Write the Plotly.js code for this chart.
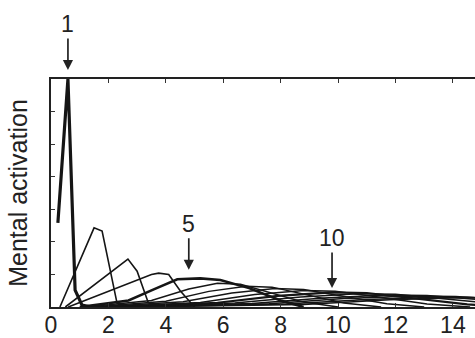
<!DOCTYPE html>
<html><head><meta charset="utf-8">
<script src="https://cdn.plot.ly/plotly-3.0.1.min.js"></script>
<style>html,body{margin:0;padding:0;background:#fff;overflow:hidden}</style>
</head><body><div id="chart" style="width:475px;height:338px"></div>
<script>
// Curves: mental activation for numbers 1..15
const c1x = [0.24, 0.59, 0.84, 1.08, 1.4];
const c1y = [0.258, 0.70, 0.052, 0.006, 0];
const c2x = [0.31, 1.50, 1.78, 2.30, 2.5];
const c2y = [0, 0.243, 0.233, 0.012, 0];
const c3x = [0.5, 2.68, 3.0, 3.38, 3.6];
const c3y = [0, 0.147, 0.11, 0.015, 0];
const c4x = [0.6, 3.5, 3.75, 4.1, 4.5, 5.0];
const c4y = [0, 0.1, 0.104, 0.1, 0.05, 0];
const c5x = [1.0, 2.7, 3.6, 4.4, 5.2, 5.9, 6.9, 8.0, 8.8];
const c5y = [0, 0.02, 0.055, 0.085, 0.088, 0.083, 0.058, 0.02, 0];
const c6x = [1.2, 3.5, 4.8, 5.8, 6.6, 7.6, 8.8, 10.0];
const c6y = [0, 0.02, 0.055, 0.073, 0.07, 0.045, 0.015, 0];
const c7x = [1.4, 4.0, 5.5, 6.8, 7.7, 8.8, 10.2, 11.5];
const c7y = [0, 0.018, 0.048, 0.064, 0.061, 0.04, 0.012, 0];
const c8x = [1.6, 4.6, 6.3, 7.8, 8.8, 10.1, 11.7, 13.0];
const c8y = [0, 0.016, 0.043, 0.057, 0.054, 0.035, 0.01, 0];
const c9x = [1.8, 5.2, 7.1, 8.8, 9.9, 11.4, 13.1, 14.6];
const c9y = [0, 0.014, 0.038, 0.051, 0.048, 0.031, 0.009, 0];
const c10x = [2.0, 5.8, 7.9, 9.8, 11.0, 12.6, 14.5, 16.2];
const c10y = [0, 0.013, 0.034, 0.045, 0.043, 0.028, 0.008, 0];
const c11x = [2.2, 6.4, 8.7, 10.7, 12.0, 13.8, 15.9];
const c11y = [0, 0.012, 0.031, 0.041, 0.039, 0.025, 0.007];
const c12x = [2.4, 7.0, 9.5, 11.7, 13.1, 15.1];
const c12y = [0, 0.011, 0.028, 0.037, 0.035, 0.022];
const c13x = [2.6, 7.6, 10.2, 12.6, 14.1, 16.2];
const c13y = [0, 0.010, 0.026, 0.034, 0.032, 0.020];
const c14x = [2.8, 8.2, 11.0, 13.6, 15.2];
const c14y = [0, 0.009, 0.023, 0.031, 0.029];
const c15x = [3.0, 8.8, 11.8, 14.5, 16.2];
const c15y = [0, 0.008, 0.022, 0.029, 0.027];

const xTicks = [0, 2, 4, 6, 8, 10, 12, 14];
const yTicks = [0, 0.1, 0.2, 0.3, 0.4, 0.5, 0.6, 0.7];
const arrowLabels = ["1", "5", "10"];
const arrowX = [0.59, 4.8, 9.79];
const arrowY = [1.039, 0.114, 0.058];   // first one in paper units (above the frame)
const arrowYref = ['paper', 'y', 'y'];
const arrowAy = [-46, -46, -50];

const curves = [
  [c1x, c1y, 3.2], [c2x, c2y, 1.6], [c3x, c3y, 1.6], [c4x, c4y, 1.6], [c5x, c5y, 2.6],
  [c6x, c6y, 1.5], [c7x, c7y, 1.5], [c8x, c8y, 1.5], [c9x, c9y, 1.5], [c10x, c10y, 2.2],
  [c11x, c11y, 1.5], [c12x, c12y, 1.5], [c13x, c13y, 1.5], [c14x, c14y, 1.5], [c15x, c15y, 1.5]
];
const traces = curves.map(c => ({
  x: c[0], y: c[1], type: 'scatter', mode: 'lines',
  line: {color: '#151515', width: c[2]}, showlegend: false, hoverinfo: 'skip'
}));

const font = {family: '"Liberation Sans", Arial, sans-serif', color: '#222'};
const annotations = arrowLabels.map((t, i) => ({
  x: arrowX[i], y: arrowY[i], xref: 'x', yref: arrowYref[i], text: t,
  showarrow: true, arrowhead: 2, arrowsize: 1.2, arrowwidth: 1.7, arrowcolor: '#222',
  ax: 0, ay: arrowAy[i],
  font: Object.assign({size: 23}, font)
}));

const layout = {
  width: 475, height: 338,
  margin: {l: 51, r: 0, t: 79, b: 31},
  paper_bgcolor: '#fff', plot_bgcolor: '#fff',
  font: font,
  xaxis: {
    range: [0, 14.77], tickvals: xTicks, ticktext: xTicks.map(String),
    ticks: 'inside', ticklen: 4, tickcolor: '#333', tickwidth: 1,
    showline: true, linecolor: '#222', linewidth: 2, mirror: 'allticks',
    showgrid: false, zeroline: false, ticklabelstandoff: -4,
    tickfont: Object.assign({size: 23}, font)
  },
  yaxis: {
    range: [0, 0.7], tickvals: yTicks, showticklabels: false,
    ticks: 'inside', ticklen: 4, tickcolor: '#333', tickwidth: 1,
    showline: true, linecolor: '#222', linewidth: 2, mirror: false,
    showgrid: false, zeroline: false,
    title: {text: 'Mental activation', standoff: 14, font: Object.assign({size: 25}, font)}
  },
  annotations: annotations
};
Plotly.newPlot('chart', traces, layout, {staticPlot: true, displayModeBar: false});
</script></body></html>
